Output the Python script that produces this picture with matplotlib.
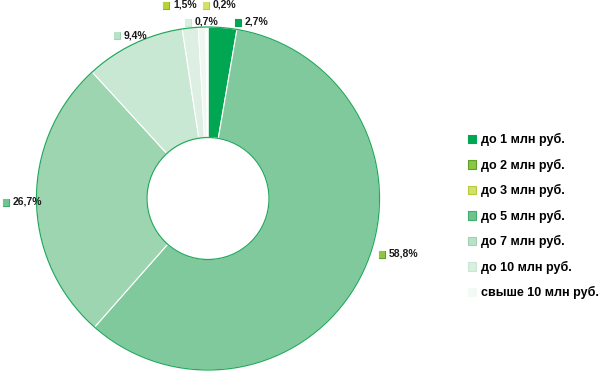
import matplotlib.pyplot as plt
import matplotlib.patheffects as pe
from matplotlib.patches import Patch, Circle

# legend categories (legend order)
categories = ['до 1 млн руб.', 'до 2 млн руб.', 'до 3 млн руб.', 'до 5 млн руб.',
              'до 7 млн руб.', 'до 10 млн руб.', 'свыше 10 млн руб.']
legend_colors = ['#00a651', '#8dc63f', '#d3e06a', '#72c392', '#b9e1c7', '#d9efe0', '#f3faf5']
legend_edges = ['#00a651', '#5f9f2c', '#b7c93c', '#3fae6b', '#9fd3b2', '#c9e7d3', '#f3faf5']

# slices, clockwise from 12 o'clock, as drawn
slice_values = [2.7, 58.8, 26.7, 9.4, 1.5, 0.7, 0.2]
slice_colors = ['#00a651', '#80c99c', '#9dd5b0', '#c9e8d3', '#dcefe2', '#eef7f1', '#fbfdfc']

# value labels: text, marker colour, marker edge, position in pixels (x, y from top)
value_labels = ['2,7%', '58,8%', '26,7%', '9,4%', '1,5%', '0,7%', '0,2%']
label_colors = ['#00a651', '#8dc63f', '#72c392', '#b9e1c7', '#b5d334', '#d9efe0', '#d3e06a']
label_edges = ['#00a651', '#5f9f2c', '#3fae6b', '#9fd3b2', '#8fae2a', '#c9e7d3', '#b7c93c']
label_px = [(238, 22), (382, 254), (6, 202), (117, 35), (166, 5), (188, 22), (206, 5)]

W, H = 600, 373
CX, CY, R = 208, 198.5, 171.5
HOLE = 61

font = ['Liberation Sans Narrow', 'Liberation Sans', 'DejaVu Sans']


def px(x, y):
    return (x - CX) / R, (CY - y) / R


fig = plt.figure(figsize=(6, 3.73), dpi=100)
ax = fig.add_axes([0, 0, 1, 1])

wedges, _ = ax.pie(slice_values, colors=slice_colors, startangle=90, counterclock=False,
                   radius=1, wedgeprops=dict(width=1 - HOLE / R, edgecolor='white', linewidth=0.8))

# green outlines on outer and inner edge
ax.add_patch(Circle((0, 0), 1, fill=False, edgecolor='#22a95c', linewidth=0.9))
ax.add_patch(Circle((0, 0), HOLE / R, fill=False, edgecolor='#22a95c', linewidth=0.9))

ax.set_xlim(-CX / R, (W - CX) / R)
ax.set_ylim(-(H - CY) / R, CY / R)
ax.set_aspect('auto')
ax.axis('off')

for txt, c, ec, (x, y) in zip(value_labels, label_colors, label_edges, label_px):
    mx, my = px(x, y)
    ax.text(mx, my, '■', color=c, fontsize=6.5, family='DejaVu Sans', ha='center', va='center',
            path_effects=[pe.withStroke(linewidth=0.8, foreground=ec)])
    tx, ty = px(x + 7, y)
    ax.text(tx, ty, txt, fontsize=7.5, family=font, fontweight='bold', ha='left', va='center',
            color='#1a1a1a')

handles = [Patch(facecolor=c, edgecolor=e, linewidth=0.8) for c, e in zip(legend_colors, legend_edges)]
fig.legend(handles, categories, loc='upper left', bbox_to_anchor=(462 / W, 1 - 127 / H),
           frameon=False, borderpad=0, handlelength=0.65, handleheight=0.65, handletextpad=0.35,
           labelspacing=1.0, prop=dict(family=font, weight='bold', size=9))

fig.savefig('out.png', dpi=100)
